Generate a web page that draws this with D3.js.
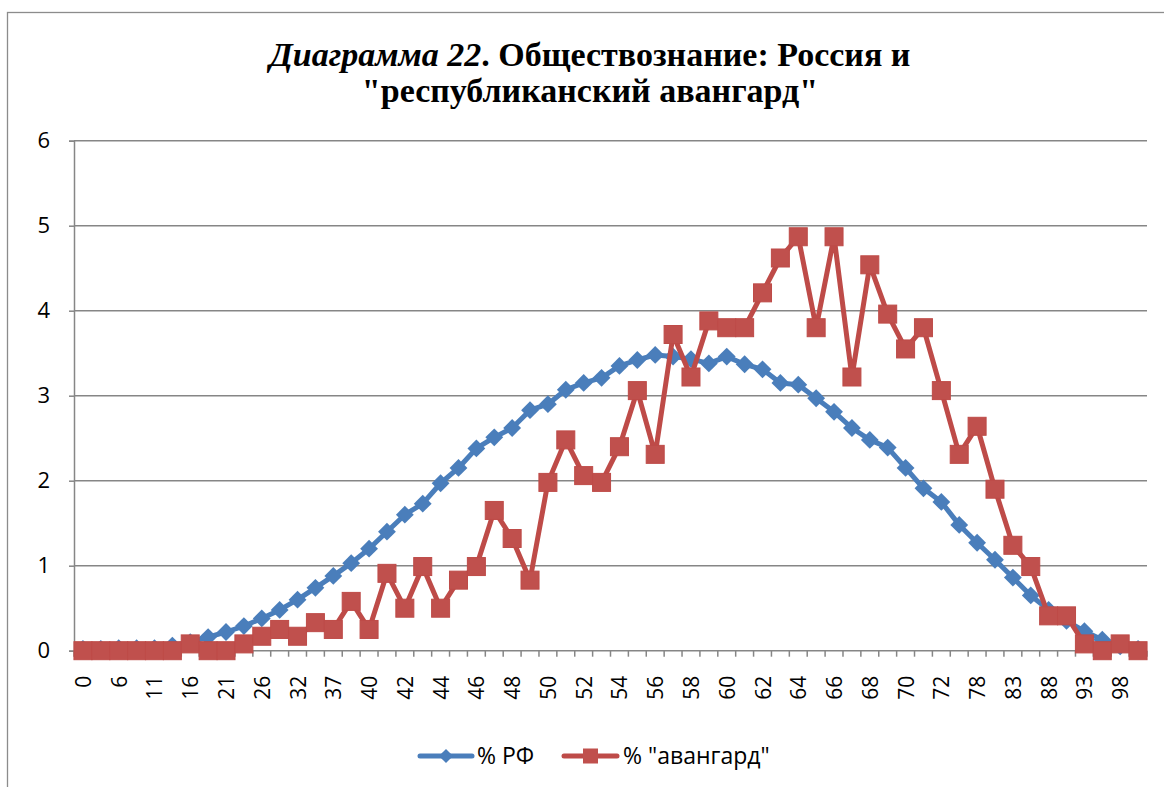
<!DOCTYPE html>
<html>
<head>
<meta charset="utf-8">
<script src="https://cdn.jsdelivr.net/npm/d3@7"></script>
<style>
  html, body { margin: 0; padding: 0; background: #fff; }
  svg { display: block; }
</style>
</head>
<body>
<svg id="chart" width="1164" height="787"></svg>
<script>
// Score categories along the x axis
const scores = [0, 3, 6, 8, 11, 14, 16, 19, 21, 24, 26, 29, 32, 34, 37, 39,
  40, 41, 42, 43, 44, 45, 46, 47, 48, 49, 50, 51, 52, 53, 54, 55, 56, 57, 58, 59,
  60, 61, 62, 63, 64, 65, 66, 67, 68, 69, 70, 71, 72, 75, 78, 80, 83, 85, 88, 90,
  93, 95, 98, 100];

// Share of participants, whole country
const pctRF = [0.02, 0.02, 0.03, 0.03, 0.03, 0.06, 0.10, 0.16, 0.22, 0.29,
  0.38, 0.48, 0.60, 0.74, 0.88, 1.03, 1.20, 1.40, 1.60, 1.73,
  1.97, 2.15, 2.38, 2.51, 2.62, 2.83, 2.90, 3.07, 3.15, 3.21,
  3.35, 3.42, 3.48, 3.46, 3.43, 3.38, 3.46, 3.37, 3.31, 3.15,
  3.13, 2.97, 2.81, 2.62, 2.48, 2.39, 2.15, 1.91, 1.75, 1.48,
  1.27, 1.07, 0.86, 0.65, 0.48, 0.35, 0.23, 0.13, 0.05, 0.02];

// Share of participants, "avant-garde" regions
const pctAvant = [0, 0, 0, 0, 0, 0, 0.08, 0, 0, 0.08,
  0.17, 0.25, 0.17, 0.33, 0.25, 0.58, 0.25, 0.91, 0.50, 0.99,
  0.50, 0.83, 0.99, 1.65, 1.32, 0.83, 1.98, 2.48, 2.06, 1.98,
  2.40, 3.06, 2.31, 3.72, 3.22, 3.88, 3.80, 3.80, 4.21, 4.62,
  4.87, 3.80, 4.87, 3.22, 4.54, 3.96, 3.55, 3.80, 3.06, 2.31,
  2.64, 1.90, 1.24, 0.99, 0.41, 0.41, 0.08, 0, 0.08, 0];

const yTicks = [0, 1, 2, 3, 4, 5, 6];
const seriesNames = ["% РФ", "% \"авангард\""];

const svg = d3.select("#chart");
const plot = { left: 74, right: 1147, top: 140.7, bottom: 650.7 };
const gridColor = "#868686";
const blue = "#4A7EBB";
const red = "#BE4B48";
const labelFont = "'Open Sans', Lato, sans-serif";

// Chart frame
svg.append("rect")
  .attr("x", 7.5).attr("y", 12.5)
  .attr("width", 1170).attr("height", 790)
  .attr("fill", "#fff").attr("stroke", "#8c8c8c").attr("stroke-width", 1.3);

// Title
const title = svg.append("text")
  .attr("text-anchor", "middle")
  .attr("font-family", "'Liberation Serif', 'DejaVu Serif', serif")
  .attr("font-weight", "bold")
  .attr("font-size", 34)
  .attr("fill", "#000");
const t1 = title.append("tspan").attr("x", 590).attr("y", 66);
t1.append("tspan").attr("font-style", "italic").text("Диаграмма 22");
t1.append("tspan").text(". Обществознание: Россия и");
title.append("tspan").attr("x", 590).attr("y", 102).text("\"республиканский авангард\"");

const x = d3.scaleBand().domain(scores.map(String)).range([plot.left, plot.right]).padding(0);
const y = d3.scaleLinear().domain([0, 6]).range([plot.bottom, plot.top]);
const cx = (d, i) => x(String(scores[i])) + x.bandwidth() / 2;

// Horizontal gridlines
svg.append("g").selectAll("line").data(yTicks.filter(d => d > 0)).join("line")
  .attr("x1", plot.left).attr("x2", plot.right)
  .attr("y1", d => y(d)).attr("y2", d => y(d))
  .attr("stroke", gridColor).attr("stroke-width", 1.5);

// Y axis
const yAxis = svg.append("g")
  .attr("transform", `translate(${plot.left},0)`)
  .call(d3.axisLeft(y).tickValues(yTicks).tickSize(5).tickPadding(19).tickFormat(d3.format("d")));
yAxis.select(".domain").attr("stroke", gridColor).attr("stroke-width", 1.5);
yAxis.selectAll(".tick line").attr("stroke", gridColor).attr("stroke-width", 1.5);
yAxis.selectAll(".tick text")
  .attr("font-family", labelFont).attr("font-size", 22).attr("fill", "#000");

// X axis: ticks on category boundaries, labels on every other category
const xAxisG = svg.append("g").attr("transform", `translate(0,${plot.bottom})`);
xAxisG.append("line")
  .attr("x1", plot.left).attr("x2", plot.right)
  .attr("stroke", gridColor).attr("stroke-width", 1.5);
const boundaries = scores.map(s => x(String(s))).concat([plot.right]);
xAxisG.selectAll("line.tk").data(boundaries).join("line").attr("class", "tk")
  .attr("x1", d => d).attr("x2", d => d).attr("y1", 0).attr("y2", 6)
  .attr("stroke", gridColor).attr("stroke-width", 1.5);
xAxisG.selectAll("text").data(scores.filter((s, i) => i % 2 === 0)).join("text")
  .attr("transform", d => `translate(${x(String(d)) + x.bandwidth() / 2 + 8},25) rotate(-90)`)
  .attr("text-anchor", "end")
  .attr("font-family", labelFont).attr("font-size", 21).attr("fill", "#000")
  .text(d => d);

// Series lines and markers
const line = d3.line().x(cx).y(d => y(d));

svg.append("path").datum(pctRF)
  .attr("d", line).attr("fill", "none")
  .attr("stroke", blue).attr("stroke-width", 5).attr("stroke-linejoin", "round");
svg.append("g").selectAll("rect").data(pctRF).join("rect")
  .attr("x", -6.3).attr("y", -6.3).attr("width", 12.6).attr("height", 12.6)
  .attr("transform", (d, i) => `translate(${cx(d, i)},${y(d)}) rotate(45)`)
  .attr("fill", blue);

svg.append("path").datum(pctAvant)
  .attr("d", line).attr("fill", "none")
  .attr("stroke", red).attr("stroke-width", 5).attr("stroke-linejoin", "round");
svg.append("g").selectAll("rect").data(pctAvant).join("rect")
  .attr("x", (d, i) => cx(d, i) - 9).attr("y", d => y(d) - 9)
  .attr("width", 18).attr("height", 18)
  .attr("fill", "#C0504D").attr("stroke", red).attr("stroke-width", 1);

// Legend
const legend = svg.append("g").attr("font-family", labelFont).attr("font-size", 23);
const lg1 = legend.append("g").attr("transform", "translate(420,756)");
lg1.append("line").attr("x1", 0).attr("x2", 52).attr("stroke", blue).attr("stroke-width", 5).attr("stroke-linecap", "round");
lg1.append("rect").attr("x", -5).attr("y", -5).attr("width", 10).attr("height", 10)
  .attr("transform", "translate(26,0) rotate(45)").attr("fill", blue);
lg1.append("text").attr("x", 57).attr("y", 8).text(seriesNames[0]);
const lg2 = legend.append("g").attr("transform", "translate(564,756)");
lg2.append("line").attr("x1", 0).attr("x2", 53).attr("stroke", red).attr("stroke-width", 5).attr("stroke-linecap", "round");
lg2.append("rect").attr("x", 19).attr("y", -7.5).attr("width", 15).attr("height", 15).attr("fill", "#C0504D");
lg2.append("text").attr("x", 59).attr("y", 8).text(seriesNames[1]);
</script>
</body>
</html>
